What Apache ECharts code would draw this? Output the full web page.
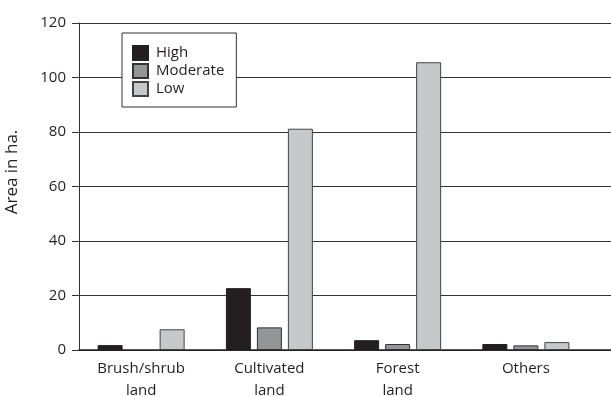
<!DOCTYPE html>
<html>
<head>
<meta charset="utf-8">
<script src="https://cdn.jsdelivr.net/npm/echarts@6/dist/echarts.min.js"></script>
<style>
  html, body { margin: 0; padding: 0; background: #fff; }
  #chart { width: 611px; height: 397px; }
</style>
</head>
<body>
<div id="chart"></div>
<script>
// Land cover classes and area (ha.) per risk level
const categories = ['Brush/shrub\nland', 'Cultivated\nland', 'Forest\nland', 'Others'];
const high = [1.8, 22.7, 3.6, 2.2];
const moderate = [null, 8.3, 2.2, 1.7];
const low = [7.6, 81.2, 105.6, 2.9];
const yTicks = { min: 0, max: 120, interval: 20 };

const FONT = '"Open Sans", "Noto Sans", sans-serif';
const INK = '#231f20';

function barSeries(name, data, color, border) {
  return {
    name: name,
    type: 'bar',
    data: data,
    barWidth: 25,
    barGap: '24%',
    xAxisIndex: 0,
    yAxisIndex: 0,
    itemStyle: { color: color, borderColor: border, borderWidth: 1 }
  };
}

const chart = echarts.init(document.getElementById('chart'), null, { renderer: 'canvas' });
chart.setOption({
  animation: false,
  backgroundColor: '#fff',
  textStyle: { fontFamily: FONT, color: INK },
  grid: [
    { left: 77, right: 21, top: 23, bottom: 47, containLabel: false, outerBoundsMode: 'none' },
    // wider grid that carries the gridlines out to the page edge
    { left: 79, right: 0, top: 23, bottom: 47, containLabel: false, outerBoundsMode: 'none' }
  ],
  legend: {
    orient: 'vertical',
    left: 122,
    top: 33,
    padding: [12, 12, 10, 10],
    itemWidth: 15,
    itemHeight: 14,
    itemGap: 2,
    icon: 'rect',
    backgroundColor: '#fff',
    borderColor: '#333',
    borderWidth: 1,
    borderRadius: 0,
    textStyle: { fontFamily: FONT, fontSize: 15, lineHeight: 16, color: INK, padding: [0, 0, 0, 3] },
    data: ['High', 'Moderate', 'Low']
  },
  xAxis: [
    {
      type: 'category',
      gridIndex: 0,
      data: categories,
      axisLine: { show: false },
      axisTick: { show: false },
      axisLabel: { fontFamily: FONT, fontSize: 15, color: INK, lineHeight: 22, margin: 8, interval: 0 },
      splitLine: { show: false }
    },
    {
      type: 'value',
      gridIndex: 1,
      min: 0,
      max: 1,
      axisLine: { show: true, onZero: false, lineStyle: { color: INK, width: 1.5 } },
      axisTick: { show: false },
      axisLabel: { show: false },
      splitLine: { show: false }
    }
  ],
  yAxis: [
    {
      type: 'value',
      gridIndex: 0,
      min: yTicks.min,
      max: yTicks.max,
      interval: yTicks.interval,
      show: false
    },
    {
      type: 'value',
      gridIndex: 1,
      min: yTicks.min,
      max: yTicks.max,
      interval: yTicks.interval,
      name: 'Area in ha.',
      nameLocation: 'middle',
      nameGap: 58,
      nameTextStyle: { fontFamily: FONT, fontSize: 17, color: INK, padding: [0, 0, 0, 29] },
      axisLine: { show: true, lineStyle: { color: '#333', width: 1 } },
      axisTick: { show: true, length: 7, inside: false, lineStyle: { color: '#333' } },
      axisLabel: { fontFamily: FONT, fontSize: 15, color: INK, margin: 13 },
      splitLine: { show: true, lineStyle: { color: '#333', width: 1 } }
    }
  ],
  series: [
    barSeries('High', high, '#231f20', '#231f20'),
    barSeries('Moderate', moderate, '#939598', '#333'),
    barSeries('Low', low, '#c7c8ca', '#444')
  ]
});
</script>
</body>
</html>
